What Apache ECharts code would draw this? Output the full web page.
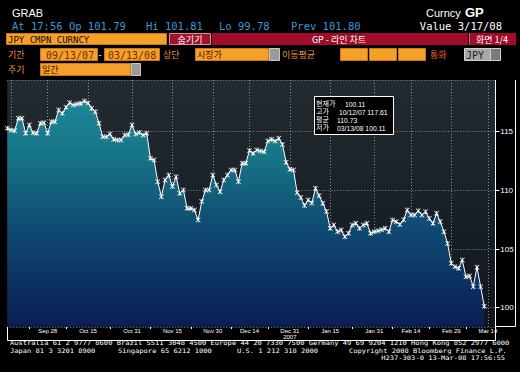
<!DOCTYPE html>
<html><head><meta charset="utf-8">
<script src="https://cdn.jsdelivr.net/npm/echarts@6/dist/echarts.min.js"></script>
<style>html,body{margin:0;padding:0;background:#000;}#c{width:520px;height:372px;}</style>
</head><body><div id="c"></div>
<script>
// trading days (weekdays) shown on the category axis
const dates = [
 '09/13/07','09/14/07','09/17/07','09/18/07','09/19/07','09/20/07','09/21/07','09/24/07','09/25/07','09/26/07','09/27/07','09/28/07',
 '10/01/07','10/02/07','10/03/07','10/04/07','10/05/07','10/08/07','10/09/07','10/10/07','10/11/07','10/12/07','10/15/07','10/16/07','10/17/07','10/18/07','10/19/07','10/22/07','10/23/07','10/24/07','10/25/07','10/26/07','10/29/07','10/30/07','10/31/07',
 '11/01/07','11/02/07','11/05/07','11/06/07','11/07/07','11/08/07','11/09/07','11/12/07','11/13/07','11/14/07','11/15/07','11/16/07','11/19/07','11/20/07','11/21/07','11/22/07','11/23/07','11/26/07','11/27/07','11/28/07','11/29/07','11/30/07',
 '12/03/07','12/04/07','12/05/07','12/06/07','12/07/07','12/10/07','12/11/07','12/12/07','12/13/07','12/14/07','12/17/07','12/18/07','12/19/07','12/20/07','12/21/07','12/24/07','12/25/07','12/26/07','12/27/07','12/28/07','12/31/07',
 '01/01/08','01/02/08','01/03/08','01/04/08','01/07/08','01/08/08','01/09/08','01/10/08','01/11/08','01/14/08','01/15/08','01/16/08','01/17/08','01/18/08','01/21/08','01/22/08','01/23/08','01/24/08','01/25/08','01/28/08','01/29/08','01/30/08','01/31/08',
 '02/01/08','02/04/08','02/05/08','02/06/08','02/07/08','02/08/08','02/11/08','02/12/08','02/13/08','02/14/08','02/15/08','02/18/08','02/19/08','02/20/08','02/21/08','02/22/08','02/25/08','02/26/08','02/27/08','02/28/08','02/29/08',
 '03/03/08','03/04/08','03/05/08','03/06/08','03/07/08','03/10/08','03/11/08','03/12/08','03/13/08','03/14/08','03/17/08','03/18/08'
];
// JPY per USD closes, 09/13/07 .. 03/13/08
const prices = [
 115.29,115.15,115.09,116.14,116.14,114.86,115.57,114.92,114.86,115.72,115.77,114.86,
 115.86,115.86,116.85,116.57,117.08,117.48,117.28,117.36,117.42,117.61,117.45,117.00,116.71,115.72,114.58,114.58,114.80,114.35,114.30,114.30,114.72,114.75,115.57,
 114.80,114.93,114.72,114.86,112.73,112.59,110.74,109.46,110.88,111.31,110.32,111.17,109.75,110.03,108.47,108.47,108.33,107.47,109.04,110.03,110.03,111.31,
 110.46,109.89,110.88,111.31,111.74,111.74,110.74,112.31,112.31,113.40,113.16,113.44,113.35,113.30,114.20,114.35,114.20,114.44,113.90,112.40,111.80,
 111.74,109.80,109.40,108.70,109.18,108.93,110.17,109.55,108.90,108.19,106.77,107.05,106.48,106.62,106.05,106.34,107.05,107.19,106.76,107.05,107.19,106.34,106.48,
 106.55,106.65,106.76,106.48,107.47,107.33,107.10,107.50,108.32,107.90,107.90,108.27,107.90,108.18,107.61,107.19,108.04,107.33,106.48,105.48,103.78,
 103.49,103.35,104.06,102.64,102.70,101.79,103.44,101.79,100.11
];
// x-axis label dates and texts
const labelDates = ['09/28/07','10/15/07','10/31/07','11/15/07','11/30/07','12/14/07','12/31/07','01/15/08','01/31/08','02/14/08','02/29/08','03/14/08'];
const labelTexts = ['Sep 28','Oct 15','Oct 31','Nov 15','Nov 30','Dec 14','Dec 31\n2007','Jan 15','Jan 31','Feb 14','Feb 29','Mar 14'];
const gridDates = ['09/14/07'].concat(labelDates);
const tickDates = ['09/21/07','10/05/07','10/23/07','11/07/07','11/22/07','12/07/07','12/21/07','01/07/08','01/23/08','02/07/08','02/21/08','03/06/08'];
const yTicks = [100, 105, 110, 115];
// info box
const infoLabels = ['현재가','고가','평균','저가'];
const infoValues = ['100.11','10/12/07 117.61','110.73','03/13/08 100.11'];

const chart = echarts.init(document.getElementById('c'), null, {renderer:'svg', width:520, height:372});
const ORANGE = '#f6a02a', OTXT = '#e8952a';
const mono = 'DejaVu Sans Mono';
const kr = '"Noto Sans CJK KR"';
function T(x, y, text, fill, font, align, z){
  return {type:'text', z: z||50, style:{x:x, y:y, text:text, fill:fill, font:font, textAlign:align||'left', textVerticalAlign:'middle'}};
}
function TS(x, y, text, sx, align){
  return {type:'text', z: 50, x: x, y: y, scaleX: sx, style:{x:0, y:0, text:text, fill:'#fff', font:'6.2px ' + mono, textAlign:align||'left', textVerticalAlign:'middle'}};
}
function R(x, y, w, h, fill, stroke, z){
  return {type:'rect', z: z||40, shape:{x:x, y:y, width:w, height:h}, style:{fill:fill, stroke:stroke||null, lineWidth:1}};
}
function L(pts, color, z){
  return {type:'polyline', z: z||60, shape:{points:pts}, style:{stroke:color||'#fff', lineWidth:1, fill:null}};
}
const g = [];
// header
g.push(T(12, 12.5, 'GRAB', '#fff', '11px "Liberation Sans"'));
g.push(T(426, 12.5, 'Curncy', '#fff', '11px "Liberation Sans"'));
g.push(T(465, 12.5, 'GP', '#fff', 'bold 13px "Liberation Sans"'));
g.push(T(12, 25.5, 'At 17:56 Op 101.79', '#3d98d6', '10.5px ' + mono));
g.push(T(146, 25.5, 'Hi 101.81', '#3d98d6', '10.5px ' + mono));
g.push(T(219, 25.5, 'Lo 99.78', '#3d98d6', '10.5px ' + mono));
g.push(T(291, 25.5, 'Prev 101.80', '#3d98d6', '10.5px ' + mono));
g.push(T(502, 25.5, 'Value 3/17/08', '#fff', '10.5px ' + mono, 'right'));
// row 3
g.push(R(6.5, 33.5, 160, 11, ORANGE, '#c87a10'));
g.push(T(8, 39.5, 'JPY CMPN CURNCY', '#1a0a00', '9px ' + mono));
g.push(R(169.5, 33.5, 41, 11, '#a1122c', '#e08a98'));
g.push(T(190, 39.5, '숨기기', '#fff', '9px ' + kr, 'center'));
g.push(R(212, 33, 256, 12, '#a10c2a'));
g.push(T(339, 39.5, 'GP - 라인 차트', '#fff', '9px ' + kr, 'center'));
g.push(R(469, 33, 47, 12, '#a10c2a'));
g.push(L([[469.5,33],[469.5,45]], '#d06070'));
g.push(T(492, 39.5, '화면 1/4', '#fff', '9px ' + kr, 'center'));
// row 4
g.push(T(8, 54.5, '기간', OTXT, '9px ' + kr));
g.push(R(40.5, 48.5, 57, 12, ORANGE, '#c87a10'));
g.push(T(46, 55, '09/13/07', '#6a3000', '10px ' + mono));
g.push(T(100, 54.5, '-', '#fff', '9px ' + mono, 'center'));
g.push(R(104.5, 48.5, 55, 12, ORANGE, '#c87a10'));
g.push(T(108, 55, '03/13/08', '#6a3000', '10px ' + mono));
g.push(T(163, 54.5, '상단', OTXT, '9px ' + kr));
g.push(R(195.5, 48.5, 73, 12, ORANGE, '#c87a10'));
g.push(T(197, 54.5, '시장가', '#3a1000', '9px ' + kr));
g.push(R(269.5, 48.5, 10, 12, '#9a9a9a', '#c8c8c8'));
g.push(T(282, 54.5, '이동평균', OTXT, '9px ' + kr));
g.push(R(340.5, 48.5, 27, 12, ORANGE, '#c87a10'));
g.push(R(369.5, 48.5, 27, 12, ORANGE, '#c87a10'));
g.push(R(398.5, 48.5, 27, 12, ORANGE, '#c87a10'));
g.push(T(430, 54.5, '통화', '#e8602a', '9px ' + kr));
g.push(R(464.5, 48.5, 26, 12, '#a8a8a8', '#d0d0d0'));
g.push(R(490.5, 48.5, 10, 12, '#7a7a7a', '#d0d0d0'));
g.push(T(466, 55, 'JPY', '#202020', '10px ' + mono));
// row 5
g.push(T(8, 69.5, '주기', OTXT, '9px ' + kr));
g.push(R(40.5, 63.5, 90, 12, ORANGE, '#c87a10'));
g.push(T(42, 69.5, '일간', '#3a1000', '9px ' + kr));
g.push(R(131.5, 63.5, 9, 12, '#9a9a9a', '#c8c8c8'));
// frame of axis panels
g.push(L([[495.5,80],[495.5,340.5],[7.5,340.5],[7.5,327]], '#fff'));
g.push(L([[495.5,326.5],[515.5,326.5],[515.5,80]], '#fff'));
// info box
g.push(R(314.5, 96.5, 79, 38, '#000', '#fff', 70));
const infoX = [345, 339, 337, 337];
infoLabels.forEach((s, i) => {
  g.push(T(316, 103 + i*8, s, '#fff', '7px "Liberation Sans", "Noto Sans CJK KR"', 'left', 80));
  g.push(T(infoX[i], 104 + i*8, infoValues[i], '#fff', '6.8px "Liberation Sans"', 'left', 80));
});
// footer (monospace, stretched horizontally to the terminal's cell width)
const SX = 1.144;
g.push(TS(10, 343.6, 'Australia 61 2 9777 8600 Brazil 5511 3048 4500 Europe 44 20 7330 7500 Germany 49 69 9204 1210 Hong Kong 852 2977 6000', SX));
g.push(TS(10, 351, 'Japan 81 3 3201 8900', SX));
g.push(TS(118, 351, 'Singapore 65 6212 1000', SX));
g.push(TS(237, 351, 'U.S. 1 212 318 2000', SX));
g.push(TS(349, 351, 'Copyright 2008 Bloomberg Finance L.P.', SX));
g.push(TS(505, 358.4, 'H237-303-0 13-Mar-08 17:56:55', SX, 'right'));

const starSymbol = 'path://M0,1L1,0L5,4L9,0L10,1L6,5L10,9L9,10L5,6L1,10L0,9L4,5Z M4.4,0H5.6V10H4.4Z';

chart.setOption({
  backgroundColor: '#000',
  animation: false,
  grid: {left: 7.3, top: 80, width: 488, height: 247, show: true, borderWidth: 0,
    backgroundColor: {type:'linear', x:0, y:0, x2:0, y2:1, colorStops:[{offset:0,color:'#232b31'},{offset:1,color:'#10151c'}]}},
  xAxis: {
    type: 'category', data: dates, boundaryGap: false,
    axisLine: {show: false},
    axisTick: {show: true, length: 2, inside: false, lineStyle:{color:'#fff'},
      interval: (i, v) => tickDates.indexOf(v) >= 0},
    axisLabel: {color:'#fff', fontSize: 6, fontFamily:'Liberation Sans', margin: 1, lineHeight: 6,
      interval: (i, v) => labelDates.indexOf(v) >= 0,
      formatter: v => { const k = labelDates.indexOf(v); return k >= 0 ? labelTexts[k] : ''; }},
    splitLine: {show: true, interval: (i, v) => gridDates.indexOf(v) >= 0,
      lineStyle: {color:'#9aa6b0', width: 1, type: [1, 2], opacity: 0.8}}
  },
  yAxis: {
    type: 'value', position: 'right', min: 98.35, max: 119.41, minInterval: 5, maxInterval: 5,
    axisLine: {show: false},
    axisTick: {show: true, length: 4, lineStyle:{color:'#fff'}},
    axisLabel: {color:'#fff', fontSize: 8, fontFamily:'Liberation Sans', margin: 5,
      showMinLabel: false, showMaxLabel: false,
      formatter: v => yTicks.indexOf(v) >= 0 ? String(v) : ''},
    splitLine: {show: true, lineStyle: {color:'#9aa6b0', width: 1, type: [1, 2], opacity: 0.8}}
  },
  series: [{
    type: 'line', data: prices, symbol: starSymbol, symbolSize: 5, showSymbol: true, showAllSymbol: true,
    lineStyle: {color:'#ffffff', width: 1},
    itemStyle: {color:'#ffffff'},
    areaStyle: {origin: 'start', opacity: 1,
      color: {type:'linear', x:0, y:80, x2:0, y2:327, global:true,
        colorStops:[{offset:0,color:'#1f8c9a'},{offset:0.3,color:'#177688'},{offset:0.6,color:'#0f4a72'},{offset:1,color:'#0a1d52'}]}}
  }],
  graphic: {elements: g}
});
</script></body></html>
